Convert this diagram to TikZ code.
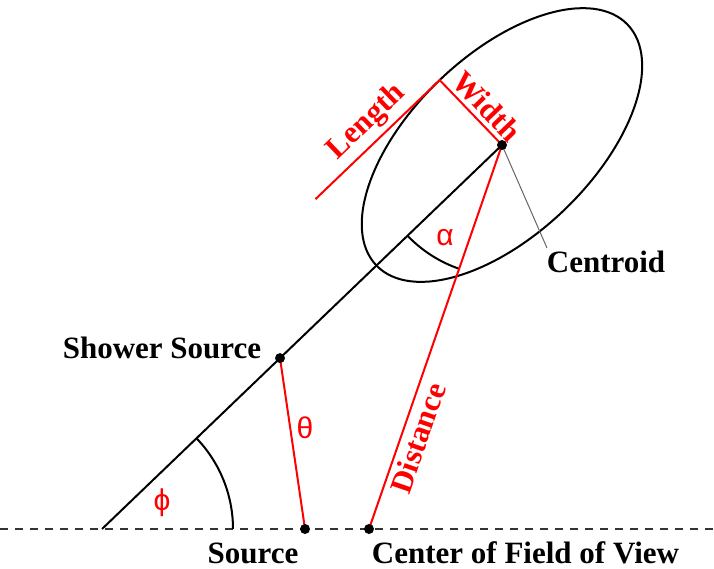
\documentclass[tikz,border=0pt]{standalone}
\usepackage{fontspec}
\setmainfont{Liberation Serif}
\newfontfamily\greekfont{Liberation Sans}
\begin{document}
\begin{tikzpicture}[x=1pt,y=-1pt,
  lbl/.style={font=\fontsize{31}{34}\selectfont\bfseries, inner sep=0pt},
  rlbl/.style={lbl, text=red},
  greek/.style={font=\greekfont\fontsize{30}{34}\selectfont, text=red, inner sep=0pt},
  ln/.style={line width=2pt},
  rln/.style={line width=2pt, red},
  leader/.style={line width=1pt, black!60},
  dot/.style={circle, fill=black, inner sep=0pt, minimum size=10pt}]
\useasboundingbox (0,0) rectangle (714,569);
\coordinate (L) at (0,529);
\coordinate (R) at (714,529);
\coordinate (O) at (102,529);
\coordinate (C) at (502,145);
\coordinate (S) at (280,358.1);
\coordinate (Src) at (305,529);
\coordinate (F) at (369,529);
\coordinate (W) at (439.7,80.1);
\coordinate (Lend) at (315.5,199.1);
\coordinate (CL) at (547,248);
% baseline
\draw[line width=2.2pt, black!80, dash pattern=on 8pt off 7pt] (L) -- (R);
% main axis
\draw[ln] (O) -- (C);
% ellipse
\draw[ln, rotate around={43.8:(C)}] (C) ellipse [x radius=174pt, y radius=90pt];
% angles
\draw[ln] (C) ++(223.8:131pt) arc[start angle=223.8, end angle=250.9, radius=131pt];
\draw[ln] (O) ++(0:131pt) arc[start angle=0, end angle=43.8, radius=131pt];
% red lines
\draw[rln] (Lend) -- (W) -- (C);
\draw[rln] (C) -- (F);
\draw[rln] (S) -- (Src);
% leader
\draw[leader] (C) -- (CL);
% labels
\node[lbl] (ssl) at (162,348) {Shower Source};
\node[lbl] (srcl) at (253,553) {Source};
\node[lbl] (fovl) at (525.5,553) {Center of Field of View};
\node[lbl] (cenl) at (606,262) {Centroid};
\node[rlbl, rotate=43.8] (lenl) at (367,122) {Length};
\node[rlbl, rotate=-46.2] (widl) at (487,106) {Width};
\node[rlbl, rotate=70.9] (disl) at (418,438) {Distance};
\node[greek] (al) at (445,238) {α};
\node[greek] (th) at (305,428) {θ};
\node[greek] (ph) at (162,503) {ϕ};
% dots
\node[dot] (dC) at (C) {};
\node[dot] (dS) at (S) {};
\node[dot] (dSrc) at (Src) {};
\node[dot] (dF) at (F) {};
\end{tikzpicture}
\end{document}
